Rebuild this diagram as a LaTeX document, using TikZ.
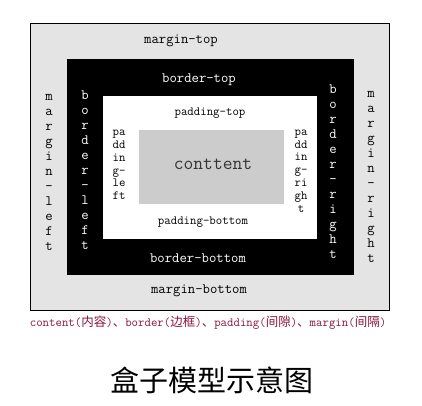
\documentclass[tikz,border=0pt]{standalone}
\usepackage{fontspec}
\newfontfamily\cjk{Noto Sans CJK SC}
\newcommand{\zh}[1]{{\cjk #1}}
\definecolor{margingray}{RGB}{228,228,228}
\definecolor{contentgray}{RGB}{204,204,204}
\definecolor{notered}{RGB}{140,20,60}
\tikzset{
  boxlbl/.style={font=\ttfamily\fontsize{14.3}{15}\selectfont, inner sep=0pt, align=center},
  padlbl/.style={font=\ttfamily\fontsize{12.5}{12.8}\selectfont, inner sep=0pt, align=center},
}

\begin{document}
\begin{tikzpicture}[x=1pt, y=-1pt]
	\fill[white] (0,0) rectangle (422,405);
	\useasboundingbox (0,0) rectangle (422,405);
	% boxes
	\filldraw[fill=margingray, draw=black, line width=0.8pt] (30,23) rectangle (389,310);
	\fill[black] (67,59) rectangle (354,275);
	\fill[white] (103,96) rectangle (317,239);
	\fill[contentgray] (139,130) rectangle (284,204);
	% margin
	\node[boxlbl] (mtop) at (181,41) {margin-top};
	\node[boxlbl] (mbottom) at (199,291) {margin-bottom};
	\node[boxlbl] (mleft) at (49,172) {m\\a\\r\\g\\i\\n\\-\\l\\e\\f\\t};
	\node[boxlbl] (mright) at (371,177) {m\\a\\r\\g\\i\\n\\-\\r\\i\\g\\h\\t};
	% border
	\node[boxlbl, text=white] (btop) at (199,80) {border-top};
	\node[boxlbl, text=white] (bbottom) at (198,258) {border-bottom};
	\node[boxlbl, text=white] (bleft) at (85,170) {b\\o\\r\\d\\e\\r\\-\\l\\e\\f\\t};
	\node[boxlbl, text=white] (bright) at (333,172) {b\\o\\r\\d\\e\\r\\-\\r\\i\\g\\h\\t};
	% padding
	\node[padlbl] (ptop) at (210,113) {padding-top};
	\node[padlbl] (pbottom) at (203,222) {padding-bottom};
	\node[padlbl] (pleft) at (119,165) {pa\\dd\\in\\g-\\le\\ft};
	\node[padlbl] (pright) at (301,171) {pa\\dd\\in\\g-\\ri\\gh\\t};
	% content
	\node[font=\ttfamily\fontsize{19}{20}\selectfont, text=black!80] (cont) at (213,164) {conttent};
	% caption and title
	\node[font=\ttfamily\fontsize{12.5}{14}\selectfont, text=notered] (caption) at (208,323)
		{content(\zh{内容})\zh{、}border(\zh{边框})\zh{、}padding(\zh{间隙})\zh{、}margin(\zh{间隔})};
	\node[font=\cjk\fontsize{29}{32}\selectfont] (title) at (212,380) {盒子模型示意图};
\end{tikzpicture}
\end{document}
